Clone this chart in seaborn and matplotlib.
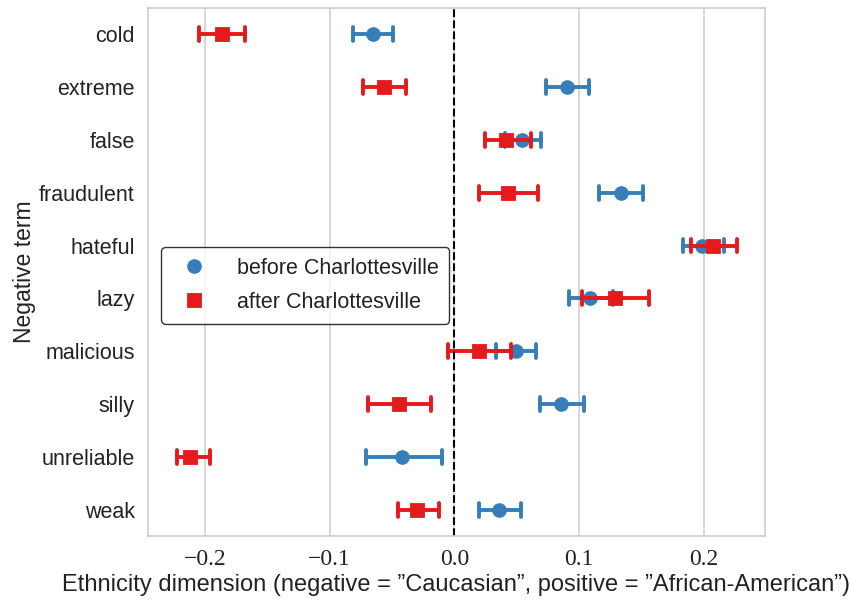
import matplotlib
matplotlib.use("Agg")
import matplotlib.pyplot as plt
import seaborn as sns
import pandas as pd

# valores
termos = ["cold", "extreme", "false", "fraudulent", "hateful",
          "lazy", "malicious", "silly", "unreliable", "weak"]

antes_media = [-0.0650, 0.0901, 0.0543, 0.1337, 0.1986, 0.1085, 0.0495, 0.0856, -0.0422, 0.0356]
antes_inf = [-0.0810, 0.0736, 0.0409, 0.1160, 0.1831, 0.0922, 0.0335, 0.0682, -0.0708, 0.0201]
antes_sup = [-0.0489, 0.1075, 0.0697, 0.1508, 0.2157, 0.1267, 0.0650, 0.1042, -0.0101, 0.0537]

depois_media = [-0.1863, -0.0561, 0.0414, 0.0433, 0.2071, 0.1286, 0.0200, -0.0446, -0.2117, -0.0299]
depois_inf = [-0.2045, -0.0735, 0.0246, 0.0195, 0.1898, 0.1024, -0.0048, -0.0692, -0.2224, -0.0454]
depois_sup = [-0.1678, -0.0387, 0.0612, 0.0668, 0.2264, 0.1558, 0.0457, -0.0187, -0.1959, -0.0122]

grupos = ["before Charlottesville", "after Charlottesville"]
cores = {"before Charlottesville": "#377eb8", "after Charlottesville": "#e41a1c"}

# monta tabela longa: inferior, média e superior para cada termo
linhas = []
for grupo, media, inf, sup in [(grupos[0], antes_media, antes_inf, antes_sup),
                               (grupos[1], depois_media, depois_inf, depois_sup)]:
    for t, m, lo, hi in zip(termos, media, inf, sup):
        for v in (lo, m, hi):
            linhas.append({"termo": t, "valor": v, "grupo": grupo})
df = pd.DataFrame(linhas)

sns.set_theme(style="whitegrid")
plt.rcParams["font.family"] = ["Liberation Sans", "DejaVu Sans"]

fig, ax = plt.subplots(figsize=(8.5, 6.03), dpi=100)
fig.subplots_adjust(left=0.174, right=0.9, top=0.987, bottom=0.111)

sns.pointplot(data=df, x="valor", y="termo", hue="grupo", order=termos,
              hue_order=grupos, palette=cores, estimator="median",
              errorbar=lambda v: (v.min(), v.max()), markers=["o", "s"],
              linestyles="none", dodge=False, capsize=0.26, markersize=8.5,
              err_kws={"linewidth": 2.8}, ax=ax)

ax.axvline(0, color="black", linestyle="--", linewidth=1.5)
ax.set_xlim(-0.2455, 0.2488)
ax.yaxis.grid(False)
ax.xaxis.grid(True, color="#d0d0d0", linewidth=1.2)
for s in ax.spines.values():
    s.set_color("#cccccc")
    s.set_linewidth(1.2)

ax.set_xticks([-0.2, -0.1, 0.0, 0.1, 0.2])
ax.set_xticklabels(["\u22120.2", "\u22120.1", "0.0", "0.1", "0.2"],
                   family="Liberation Serif", fontsize=17, color="#222222")
ax.tick_params(axis="y", labelsize=15.5, labelcolor="#222222")
ax.set_xlabel("Ethnicity dimension (negative = \u201dCaucasian\u201d, positive = \u201dAfrican-American\u201d)",
              fontsize=17, color="#222222", labelpad=3)
ax.set_ylabel("Negative term", fontsize=16.5, color="#222222", labelpad=2)

leg = ax.legend(loc="upper left", bbox_to_anchor=(0.022, 0.547), borderaxespad=0,
                fontsize=15.5, frameon=True, handletextpad=1.0, borderpad=0.5,
                labelspacing=0.6, fancybox=True)
leg.get_frame().set_edgecolor("black")
leg.get_frame().set_linewidth(1.0)
for t in leg.get_texts():
    t.set_color("#222222")

plt.savefig("out.png", dpi=100)
